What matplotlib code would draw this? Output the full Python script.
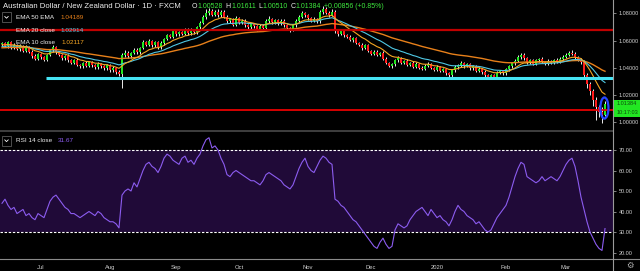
import numpy as np
import pandas as pd
import matplotlib
matplotlib.use("Agg")
import matplotlib.pyplot as plt
from matplotlib.patches import Ellipse, Rectangle
from matplotlib.lines import Line2D

plt.rcParams['font.family'] = ['Liberation Sans', 'DejaVu Sans']

# daily bars, AUD/NZD (FXCM)
dates = pd.bdate_range('2019-06-12', periods=202)
open_first = 1.0575
closes = [
    1.0582, 1.0561, 1.0590, 1.0552, 1.0571, 1.0540, 1.0563, 1.0528, 1.0556, 1.0520,
    1.0488, 1.0468, 1.0502, 1.0478, 1.0461, 1.0497, 1.0530, 1.0552, 1.0518, 1.0496,
    1.0472, 1.0489, 1.0455, 1.0438, 1.0460, 1.0425, 1.0412, 1.0436, 1.0418, 1.0444,
    1.0420, 1.0405, 1.0431, 1.0412, 1.0398, 1.0421, 1.0384, 1.0400, 1.0372, 1.0358,
    1.0495, 1.0512, 1.0486, 1.0508, 1.0535, 1.0514, 1.0549, 1.0590, 1.0571, 1.0598,
    1.0566, 1.0589, 1.0551, 1.0583, 1.0612, 1.0640, 1.0628, 1.0668, 1.0646, 1.0662,
    1.0650, 1.0683, 1.0655, 1.0681, 1.0662, 1.0700, 1.0731, 1.0772, 1.0805, 1.0818,
    1.0790, 1.0810, 1.0786, 1.0812, 1.0775, 1.0742, 1.0758, 1.0718, 1.0765, 1.0732,
    1.0748, 1.0712, 1.0698, 1.0720, 1.0705, 1.0688, 1.0710, 1.0692, 1.0745, 1.0760,
    1.0734, 1.0752, 1.0729, 1.0748, 1.0715, 1.0697, 1.0680, 1.0712, 1.0745, 1.0774,
    1.0800, 1.0788, 1.0765, 1.0748, 1.0760, 1.0742, 1.0808, 1.0830, 1.0806, 1.0788,
    1.0812, 1.0675, 1.0650, 1.0668, 1.0642, 1.0630, 1.0606, 1.0618, 1.0585, 1.0572,
    1.0548, 1.0566, 1.0528, 1.0506, 1.0520, 1.0497, 1.0510, 1.0468, 1.0440, 1.0416,
    1.0428, 1.0455, 1.0470, 1.0440, 1.0452, 1.0425, 1.0438, 1.0410, 1.0432, 1.0402,
    1.0395, 1.0418, 1.0430, 1.0401, 1.0388, 1.0408, 1.0380, 1.0392, 1.0365, 1.0350,
    1.0382, 1.0405, 1.0420, 1.0438, 1.0415, 1.0428, 1.0398, 1.0412, 1.0380, 1.0395,
    1.0372, 1.0350, 1.0336, 1.0345, 1.0333, 1.0365, 1.0375, 1.0362, 1.0390, 1.0412,
    1.0435, 1.0452, 1.0478, 1.0495, 1.0470, 1.0440, 1.0455, 1.0432, 1.0458, 1.0466,
    1.0445, 1.0430, 1.0452, 1.0440, 1.0460, 1.0445, 1.0468, 1.0480, 1.0498, 1.0512,
    1.0505, 1.0478, 1.0462, 1.0444, 1.0345, 1.0280, 1.0230, 1.0165, 1.0110, 1.0080,
    1.00528, 1.01384]
# wick lengths above / below the body, in pips
wick_up = [
    8, 12, 6, 10, 9, 7, 11, 8, 14, 6,
    9, 12, 7, 10, 8, 6, 12, 15, 9, 7,
    10, 8, 13, 9, 7, 11, 6, 8, 12, 10,
    9, 7, 11, 8, 10, 6, 9, 12, 8, 10,
    14, 20, 12, 9, 11, 15, 8, 12, 10, 14,
    9, 11, 8, 13, 10, 12, 9, 14, 8, 11,
    10, 13, 9, 12, 8, 11, 15, 18, 30, 22,
    14, 12, 20, 16, 10, 12, 9, 11, 15, 8,
    10, 12, 9, 11, 13, 8, 10, 12, 14, 18,
    9, 11, 8, 12, 10, 9, 7, 11, 13, 12,
    15, 14, 10, 9, 12, 8, 16, 22, 18, 12,
    20, 15, 8, 10, 7, 9, 11, 8, 10, 9,
    12, 8, 10, 7, 11, 9, 8, 12, 10, 7,
    9, 14, 16, 10, 8, 11, 9, 12, 10, 8,
    11, 9, 12, 10, 8, 12, 9, 11, 10, 8,
    12, 14, 10, 12, 9, 11, 10, 12, 9, 10,
    8, 11, 9, 10, 12, 14, 10, 9, 11, 13,
    12, 14, 16, 18, 14, 10, 12, 9, 11, 10,
    12, 9, 11, 10, 8, 12, 10, 13, 15, 12,
    18, 12, 10, 14, 16, 15, 20, 18, 25, 20,
    30, 22.7]
wick_dn = [
    10, 8, 12, 9, 11, 8, 13, 10, 9, 12,
    14, 10, 9, 12, 11, 8, 10, 9, 12, 10,
    11, 13, 9, 10, 12, 8, 11, 9, 10, 12,
    10, 9, 12, 10, 11, 13, 12, 10, 14, 15,
    103, 12, 10, 14, 9, 11, 12, 10, 13, 9,
    11, 10, 12, 9, 13, 10, 11, 9, 12, 10,
    9, 11, 13, 10, 12, 9, 11, 10, 12, 14,
    10, 12, 9, 13, 11, 14, 12, 10, 9, 12,
    11, 13, 15, 10, 12, 14, 16, 11, 10, 12,
    9, 11, 10, 12, 13, 11, 14, 10, 9, 11,
    10, 12, 14, 11, 13, 10, 9, 11, 12, 14,
    10, 18, 12, 10, 13, 11, 9, 12, 10, 11,
    13, 10, 12, 11, 14, 12, 10, 13, 11, 12,
    14, 10, 9, 12, 11, 13, 10, 12, 11, 10,
    12, 11, 10, 12, 13, 11, 12, 10, 13, 14,
    16, 12, 10, 11, 12, 10, 11, 13, 12, 11,
    13, 14, 15, 12, 10, 11, 12, 10, 11, 9,
    10, 11, 9, 12, 13, 12, 11, 12, 10, 11,
    12, 11, 10, 12, 11, 10, 9, 11, 10, 12,
    11, 14, 12, 15, 20, 25, 30, 45, 92, 40,
    57, 1.8]
rsi = [
    44, 46, 43, 41, 42, 39, 40, 41, 38, 39,
    37, 36, 39, 38, 37, 41, 45, 47, 48, 46,
    44, 42, 41, 39, 39, 38, 37, 38, 39, 40,
    39, 38, 40, 39, 37, 36, 35, 35, 34, 32,
    48, 50, 51, 50, 54, 52, 56, 60, 63, 64,
    62, 61, 59, 62, 66, 68, 67, 65, 64, 63,
    66, 67, 64, 65, 63, 66, 68, 72, 75, 76,
    71, 72, 70, 66, 63, 58, 57, 59, 60, 59,
    58, 57, 56, 55, 55, 54, 53, 55, 58, 59,
    58, 57, 56, 55, 53, 52, 51, 53, 57, 61,
    64, 66, 62, 60, 59, 62, 65, 67, 66, 64,
    63, 46, 45, 43, 42, 40, 38, 36, 35, 33,
    31, 29, 27, 25, 23, 22, 25, 27, 24, 22,
    23, 31, 34, 33, 32, 33, 36, 38, 40, 41,
    42, 40, 38, 41, 39, 37, 38, 36, 35, 33,
    36, 40, 43, 41, 40, 38, 37, 36, 34, 35,
    33, 31, 30, 31, 34, 37, 39, 41, 43, 47,
    52, 57, 61, 64, 63, 57, 56, 55, 54, 55,
    57, 55, 56, 57, 56, 55, 57, 60, 63, 65,
    66, 62, 55, 47, 41, 35, 30, 27, 24, 22,
    21, 31.67]

# EMA values at the left edge of the chart (history before the window)
ema_seed = {10: 1.0569, 20: 1.0556, 50: 1.0547}
ema_text = [("EMA 50 EMA", "1.04189"), ("EMA 20 close", "1.02914"), ("EMA 10 close", "1.02117")]
levels = [1.0680, 1.0327, 1.0094]
level_from = ['2019-06-12', '2019-07-03', '2019-06-12']
title = "Australian Dollar / New Zealand Dollar \u00b7 1D \u00b7 FXCM"
ohlc_text = [("O", "1.00528"), ("H", "1.01611"), ("L", "1.00510"), ("C", "1.01384")]
change_text = "+0.00856 (+0.85%)"
rsi_label, rsi_last = "RSI 14 close", "31.67"
countdown = "10:17:03"
price_ticks = [1.00, 1.02, 1.04, 1.06, 1.08]
rsi_ticks = [20, 30, 40, 50, 60, 70]

UP, DOWN, WICK = '#22e622', '#ff1a1a', '#ececec'
C_EMA50, C_EMA20, C_EMA10 = '#e8801a', '#4fc8e4', '#f5a623'
TXT = '#eeeeee'
AXC = '#d0d0d0'


def ema(values, n, seed):
    a = 2.0 / (n + 1)
    out, e = [], seed
    for v in values:
        e += a * (v - e)
        out.append(e)
    return np.array(out)


c = np.array(closes)
o = np.r_[open_first, c[:-1]]
top = np.maximum(o, c)
bot = np.minimum(o, c)
hi = top + np.array(wick_up) * 1e-4
lo = bot - np.array(wick_dn) * 1e-4
idx = np.arange(len(c))

W, H = 640, 271
fig = plt.figure(figsize=(6.4, 2.71), dpi=100, facecolor='black')


def fx(px):
    return px / W


def fy(py):
    return 1 - py / H


ax = fig.add_axes([0, fy(131), 613 / W, 131 / H], facecolor='black')
axr = fig.add_axes([0, fy(259), 613 / W, 128 / H], facecolor='black', sharex=ax)
for a in (ax, axr):
    for s in a.spines.values():
        s.set_visible(False)

ax.set_xlim(-2 / 3, 611 / 3)
ax.set_ylim(0.99375, 1.0899)
axr.set_ylim(16.83, 79.27)

# candles
ax.vlines(idx, lo, hi, colors=WICK, lw=0.7, zorder=2)
body_col = np.where(c >= o, UP, DOWN)
ax.bar(idx, np.maximum(top - bot, 0.0003), bottom=bot, width=0.82,
       color=body_col, linewidth=0, zorder=3)

# moving averages
ax.plot(idx, ema(c, 50, ema_seed[50]), color=C_EMA50, lw=1.0, zorder=4)
ax.plot(idx, ema(c, 20, ema_seed[20]), color=C_EMA20, lw=0.8, zorder=4)
ax.plot(idx, ema(c, 10, ema_seed[10]), color=C_EMA10, lw=0.8, zorder=4)

# horizontal levels
lvl_style = [('#c00000', 1.6), ('#46e4f4', 2.2), ('#e80000', 1.3)]
for lv, start, (col, lw) in zip(levels, level_from, lvl_style):
    ax.hlines(lv, dates.get_loc(pd.Timestamp(start)) - 0.5, ax.get_xlim()[1],
              colors=col, lw=lw, zorder=5)

# blue marker around the last candle
ax.add_patch(Ellipse((idx[-1] - 0.2, (lo[-1] + hi[-1]) / 2), width=2.7, height=0.0155,
                     fill=False, ec='#2646ff', lw=1.6, zorder=6))

# price axis
ax.yaxis.tick_right()
ax.set_yticks(price_ticks)
ax.set_yticklabels([f"{t:.5f}" for t in price_ticks])
ax.tick_params(axis='y', length=2.5, width=0.6, color='#9a9a9a',
               labelcolor=AXC, labelsize=4, pad=1.5)
ax.tick_params(axis='x', bottom=False, labelbottom=False)

# RSI pane
axr.axhspan(30, 70, color='#200a38', lw=0, zorder=0)
for lv in (70, 30):
    axr.axhline(lv, color='white', lw=0.8, ls=(0, (2.2, 1.5)), zorder=1)
axr.plot(idx, rsi, color='#8c5cf0', lw=0.8, zorder=3)
axr.yaxis.tick_right()
axr.set_yticks(rsi_ticks)
axr.set_yticklabels([f"{t:.2f}" for t in rsi_ticks])
axr.tick_params(axis='y', length=2.5, width=0.6, color='#9a9a9a',
                labelcolor=AXC, labelsize=4, pad=1.5)

# month labels
month_idx, month_lbl = [], []
for i in range(1, len(dates)):
    if dates[i].month != dates[i - 1].month:
        month_idx.append(i)
        month_lbl.append(str(dates[i].year) if dates[i].month == 1 else dates[i].strftime('%b'))
axr.set_xticks(month_idx)
axr.set_xticklabels(month_lbl)
axr.tick_params(axis='x', length=0, labelsize=4.2, labelcolor=AXC, pad=4.5)

# frame lines
fig.add_artist(Line2D([0, fx(613)], [fy(131), fy(131)], color='#4a4a4a', lw=1.2))
fig.add_artist(Line2D([0, 1], [fy(259), fy(259)], color='#8a8a8a', lw=0.8))
fig.add_artist(Line2D([fx(613), fx(613)], [0, 1], color='#9a9a9a', lw=0.8))

# last price / countdown labels
r = fig.canvas.get_renderer()
y_last = ax.transData.transform((0, c[-1]))[1] / H
bh = 8 / H
fig.add_artist(Rectangle((fx(613.5), y_last - bh / 2), fx(26.5), bh, color='#22e622', lw=0))
fig.add_artist(Rectangle((fx(613.5), y_last - bh / 2 - 9 / H), fx(26.5), 9 / H, color='#22e622', lw=0))
fig.text(fx(617), y_last, f"{c[-1]:.5f}", color='#0d4a0d', fontsize=4, va='center')
fig.text(fx(617), y_last - bh / 2 - 4.5 / H, countdown, color='#0d4a0d', fontsize=4, va='center')


def runs(x_px, y_px, parts, size):
    x = x_px
    for s, col, gap in parts:
        t = fig.text(fx(x), fy(y_px), s, color=col, fontsize=size, va='center')
        x += t.get_window_extent(renderer=r).width + gap


def collapse_box(y_px):
    fig.add_artist(Rectangle((fx(2), fy(y_px + 5)), fx(9), 10 / H, fill=False,
                             ec='#5a5a5a', lw=0.6))
    fig.add_artist(Line2D([fx(4.8), fx(6.5), fx(8.2)], [fy(y_px - 0.8), fy(y_px + 0.9), fy(y_px - 0.8)],
                          color='white', lw=0.6))


# header texts
runs(3, 6, [(title, TXT, 0)], 5.6)
ohlc_parts = []
for k, v in ohlc_text:
    ohlc_parts += [(k, TXT, 0.3), (v, '#3ee83e', 2.5)]
ohlc_parts.append((change_text, '#3ee83e', 0))
runs(192, 6, ohlc_parts, 5.0)

collapse_box(17.3)
for (lbl, val), y, col in zip(ema_text, [17.3, 30.7, 42.7], [C_EMA50, C_EMA20, C_EMA10]):
    runs(16, y, [(lbl, TXT, 6), (val, col, 0)], 4.6)

collapse_box(140.7)
runs(16, 140.7, [(rsi_label, TXT, 6), (rsi_last, '#8c5cf0', 0)], 4.6)

fig.text(fx(630), fy(265), '\u2699', fontsize=6, color='#b0b0b0', ha='center', va='center',
         family='DejaVu Sans')

fig.savefig('out.png', dpi=100, facecolor='black')
